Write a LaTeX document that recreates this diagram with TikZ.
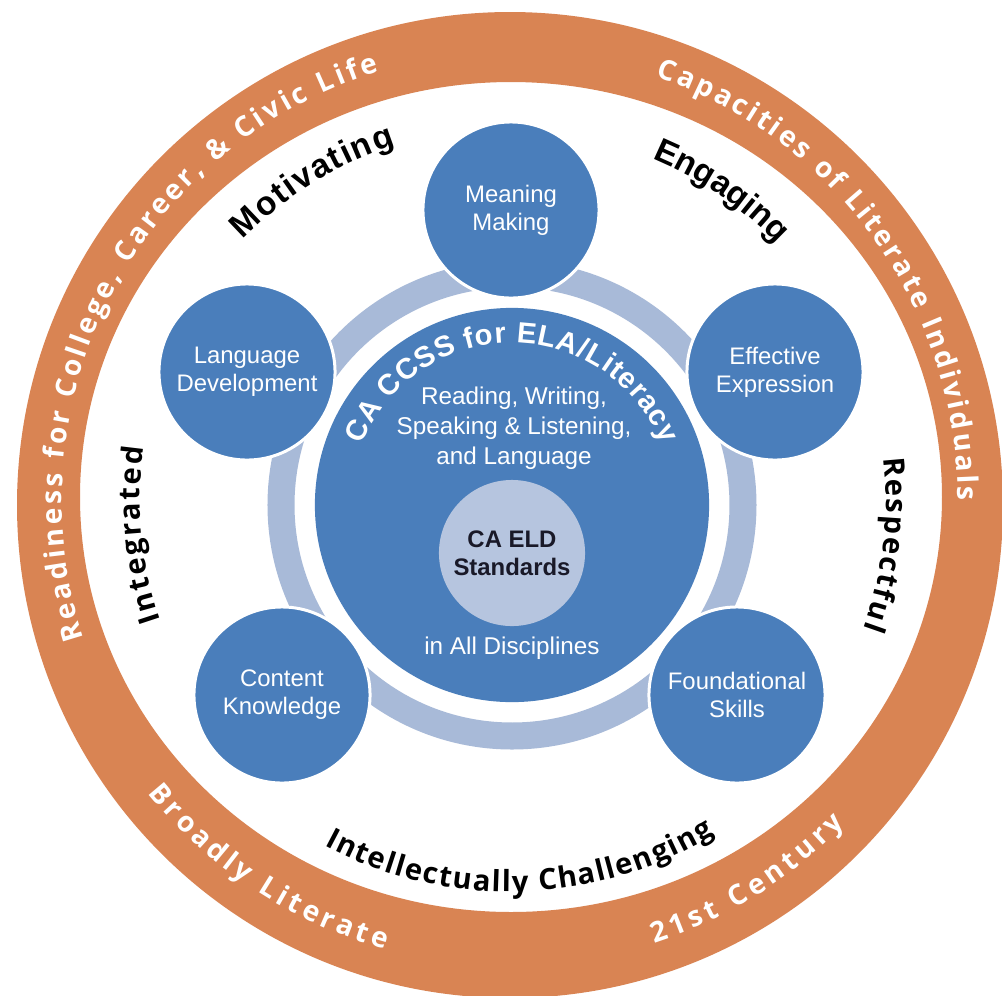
\documentclass[tikz,border=0pt]{standalone}
\usepackage{fontspec}
\setmainfont{Liberation Sans}
\newfontfamily\ringfont{Open Sans}
\usetikzlibrary{decorations.text}

\definecolor{ringorange}{RGB}{217,132,83}
\definecolor{discblue}{RGB}{74,126,187}
\definecolor{palering}{RGB}{168,186,216}
\definecolor{eldgrey}{RGB}{182,197,223}
\definecolor{eldtext}{RGB}{25,25,40}

\begin{document}
\begin{tikzpicture}[
	x=0.01cm,
	y=0.01cm,
	disc/.style={circle, fill=discblue, draw=white, line width=0.03cm,
		minimum size=1.76cm, inner sep=0pt, align=center, text=white,
		font=\fontsize{6.8}{8}\selectfont},
	ringtext/.style={decorate, decoration={text along path,
		text align={fit to path},
		text={|\ringfont\bfseries\fontsize{8}{8}\selectfont\color{white}|#1}}},
	valuetext/.style={decorate, decoration={text along path,
		text align={fit to path},
		text={|\ringfont\bfseries\fontsize{8.3}{8.3}\selectfont|#1}}},
	valuetextb/.style={decorate, decoration={text along path,
		text align={fit to path},
		text={|\bfseries\fontsize{9.5}{9.5}\selectfont|#1}}},
	titletext/.style={decorate, decoration={text along path,
		text align={fit to path},
		text={|\bfseries\fontsize{8.3}{8.3}\selectfont\color{white}|#1}}}
  ]

  \fill[white] (0,0) rectangle (1002,-996);
  \useasboundingbox (0,0) rectangle (1002,-996);

  \coordinate (ring) at (510,-500);
  \coordinate (hub) at (512,-505);

  % outer band
  \fill[ringorange, even odd rule] (510,-505) circle (493)
  	(511,-497) ellipse (431 and 415);

  % pale ring and centre
  \draw[palering, line width=0.27cm] (hub) circle (231);
  \node[circle, fill=discblue, minimum size=3.94cm, inner sep=0pt] (core) at (hub) {};
  \node[circle, fill=eldgrey, minimum size=1.46cm, inner sep=0pt, align=center,
  	text=eldtext, font=\bfseries\fontsize{6.8}{8}\selectfont] (eld) at (512,-553) {CA ELD\\Standards};

  \node[text=white, align=center, font=\fontsize{6.9}{8.5}\selectfont] (skills) at (514,-428)
  	{Reading, Writing,\\Speaking \& Listening,\\and Language};
  \node[text=white, font=\fontsize{6.9}{8.5}\selectfont] (discip) at (512,-648) {in All Disciplines};
  \path[titletext={CA CCSS for ELA/Literacy}] (hub) ++(158:162) arc (158:22:162);

  % five satellites
  \node[disc] (meaning) at (511,-210) {Meaning\\Making};
  \node[disc] (language) at (247,-372) {Language\\Development};
  \node[disc] (effective) at (775,-372) {Effective\\Expression};
  \node[disc] (content) at (282,-695) {Content\\Knowledge};
  \node[disc] (found) at (737,-695) {Foundational\\Skills};

  % band texts
  \path[ringtext={Readiness for College, Career, {\&} Civic Life}] (ring) ++(198:448) arc (198:107:448);
  \path[ringtext={Capacities of Literate Individuals}] (ring) ++(71:448) arc (71:0:448);
  \path[ringtext={Broadly Literate}] (ring) ++(219:466) arc (219:254.5:466);
  \path[ringtext={21st Century}] (ring) ++(288:466) arc (288:316:466);

  % qualities
  \path[valuetextb={Motivating}] (ring) ++(135.7:373) arc (135.7:107.9:373);
  \path[valuetextb={Engaging}] (ring) ++(67.4:370) arc (67.4:44.5:370);
  \path[valuetext={Respectful}] (ring) ++(6.4:376) arc (6.4:-20:376);
  \path[valuetext={Integrated}] (ring) ++(199:370) arc (199:171.8:370);
  \path[valuetext={Intellectually Challenging}] (ring) ++(241.7:392) arc (241.7:301.5:392);

\end{tikzpicture}
\end{document}
